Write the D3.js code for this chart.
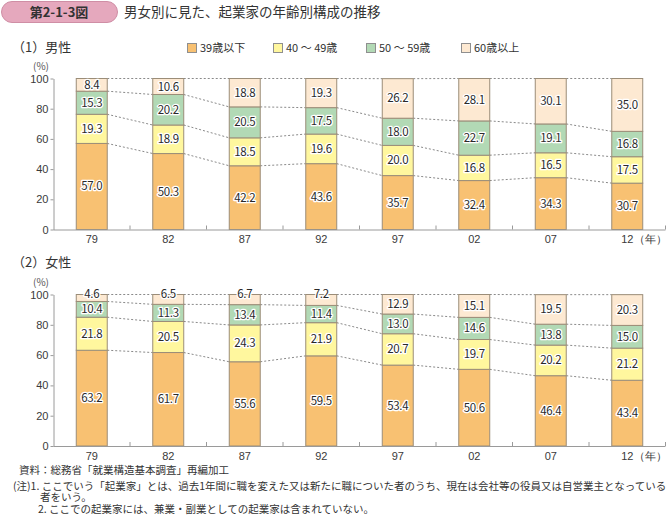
<!DOCTYPE html>
<html>
<head>
<meta charset="utf-8">
<script src="https://cdn.jsdelivr.net/npm/d3@7"></script>
<style>
  body { margin: 0; background: #fff; }
  svg { font-family: "Noto Sans CJK JP", "Noto Sans", sans-serif; }
  .axis text { font-size: 11px; fill: #3a3a3a; }
  .axis path, .axis line { stroke: #9a9a9a; }
  .seglabel { font-size: 11.5px; fill: #2a2a2a; stroke: #fff; stroke-width: 2.6px; paint-order: stroke; stroke-linejoin: round; letter-spacing: -0.3px; }
</style>
</head>
<body>
<svg id="chart" width="667" height="516"></svg>
<script>
// years and age groups
var years = ["79", "82", "87", "92", "97", "02", "07", "12"];
var groups = ["39歳以下", "40 ～ 49歳", "50 ～ 59歳", "60歳以上"];
var colors = ["#F8C172", "#FFF79E", "#B2D9B5", "#FDE9D2"];
var yTicks = [0, 20, 40, 60, 80, 100];

// 男性
var male39 = [57.0, 50.3, 42.2, 43.6, 35.7, 32.4, 34.3, 30.7];
var male40 = [19.3, 18.9, 18.5, 19.6, 20.0, 16.8, 16.5, 17.5];
var male50 = [15.3, 20.2, 20.5, 17.5, 18.0, 22.7, 19.1, 16.8];
var male60 = [8.4, 10.6, 18.8, 19.3, 26.2, 28.1, 30.1, 35.0];

// 女性
var female39 = [63.2, 61.7, 55.6, 59.5, 53.4, 50.6, 46.4, 43.4];
var female40 = [21.8, 20.5, 24.3, 21.9, 20.7, 19.7, 20.2, 21.2];
var female50 = [10.4, 11.3, 13.4, 11.4, 13.0, 14.6, 13.8, 15.0];
var female60 = [4.6, 6.5, 6.7, 7.2, 12.9, 15.1, 19.5, 20.3];

var svg = d3.select('#chart');

// title badge
svg.append('rect')
   .attr('x', 1.5).attr('y', 1.5).attr('width', 116).attr('height', 21)
   .attr('rx', 10.5).attr('ry', 10.5)
   .attr('fill', '#E5A8BD').attr('stroke', '#CF8EA5');
svg.append('text').attr('x', 59).attr('y', 17)
   .attr('text-anchor', 'middle').attr('font-size', 13).attr('font-weight', 'bold')
   .attr('fill', '#333').text('第2-1-3図');
svg.append('text').attr('x', 124).attr('y', 17)
   .attr('font-size', 13.5).attr('fill', '#333')
   .text('男女別に見た、起業家の年齢別構成の推移');

// legend
var legendX = [187, 273, 366, 461];
groups.forEach(function(g, i){
  svg.append('rect').attr('x', legendX[i] + 0.5).attr('y', 43.5)
     .attr('width', 9).attr('height', 9)
     .attr('fill', colors[i]).attr('stroke', '#8f8f8f');
  svg.append('text').attr('x', legendX[i] + 13).attr('y', 52)
     .attr('font-size', 11).attr('fill', '#333').text(g);
});

var x = d3.scaleBand()
          .domain(years)
          .range([53.5, 665.5])
          .paddingInner(0.595)
          .paddingOuter(0.2975);

function drawPanel(title, titleY, top, bottom, series){
  var y = d3.scaleLinear().domain([0, 100]).range([bottom, top]);

  svg.append('text').attr('x', 12).attr('y', titleY)
     .attr('font-size', 13).attr('fill', '#333').text(title);
  svg.append('text').attr('x', 41).attr('y', top - 9)
     .attr('text-anchor', 'middle').attr('font-size', 10).attr('fill', '#555').text('(%)');

  // stack the series per year
  var rows = years.map(function(yr, i){
    var r = {year: yr};
    groups.forEach(function(g, k){ r[g] = series[k][i]; });
    return r;
  });
  var stacked = d3.stack().keys(groups)(rows);

  var g = svg.append('g');

  // dotted connectors between neighbouring bars
  stacked.forEach(function(layer){
    for (var i = 0; i < years.length - 1; i++) {
      g.append('line')
       .attr('x1', x(years[i]) + x.bandwidth()).attr('y1', y(layer[i][1]))
       .attr('x2', x(years[i + 1])).attr('y2', y(layer[i + 1][1]))
       .attr('stroke', '#8a8a8a').attr('stroke-width', 1)
       .attr('stroke-dasharray', '2,2');
    }
  });

  // bars
  stacked.forEach(function(layer, k){
    g.selectAll(null).data(layer).enter().append('rect')
     .attr('x', function(d){ return x(d.data.year); })
     .attr('y', function(d){ return y(d[1]); })
     .attr('width', x.bandwidth())
     .attr('height', function(d){ return y(d[0]) - y(d[1]); })
     .attr('fill', colors[k])
     .attr('stroke', '#9b8d78').attr('stroke-width', 1);
  });

  // values (thin top segments get their label on the bar top)
  stacked.forEach(function(layer, k){
    g.selectAll(null).data(layer).enter().append('text')
     .attr('class', 'seglabel')
     .attr('text-anchor', 'middle')
     .attr('x', function(d){ return x(d.data.year) + x.bandwidth() / 2; })
     .attr('y', function(d){
       var v = d[1] - d[0];
       if (v < 8) return y(d[1]) + 3;
       return y((d[0] + d[1]) / 2) + 4;
     })
     .text(function(d){ return d3.format('.1f')(d[1] - d[0]); });
  });

  // y axis
  svg.append('g').attr('class', 'axis')
     .attr('transform', 'translate(53.5,0)')
     .call(d3.axisLeft(y).tickValues(yTicks).tickSize(3).tickSizeOuter(0).tickPadding(2));

  // x axis
  var xa = svg.append('g').attr('class', 'axis')
     .attr('transform', 'translate(0,' + bottom + ')')
     .call(d3.axisBottom(x).tickSize(0).tickPadding(6));
  xa.select('.domain').attr('d', 'M53.5,0.5H665.5');
  var bounds = years.map(function(yr){ return x(yr) + x.bandwidth() + x.step() * x.paddingInner() / 2; });
  xa.selectAll('.bound').data(bounds).enter().append('line')
    .attr('x1', function(d){ return d; }).attr('x2', function(d){ return d; })
    .attr('y1', 0).attr('y2', -4);
  xa.append('text').attr('text-anchor', 'start')
    .attr('x', x('12') + x.bandwidth() / 2 + 7).attr('y', 6).attr('dy', '0.71em')
    .attr('fill', '#3a3a3a').attr('font-size', 11).text('（年）');
}

drawPanel('（1）男性', 52, 78.5, 229.5, [male39, male40, male50, male60]);
drawPanel('（2）女性', 267, 294.5, 446, [female39, female40, female50, female60]);

// notes
var notes = [
  {x: 19, y: 474, t: '資料：総務省「就業構造基本調査」再編加工'},
  {x: 13, y: 489.5, t: '(注)1. ここでいう「起業家」とは、過去1年間に職を変えた又は新たに職についた者のうち、現在は会社等の役員又は自営業主となっている'},
  {x: 40, y: 501, t: '者をいう。'},
  {x: 38, y: 512.5, t: '2. ここでの起業家には、兼業・副業としての起業家は含まれていない。'}
];
notes.forEach(function(n){
  svg.append('text').attr('x', n.x).attr('y', n.y)
     .attr('font-size', 10.5).attr('fill', '#333').text(n.t);
});
</script>
</body>
</html>
